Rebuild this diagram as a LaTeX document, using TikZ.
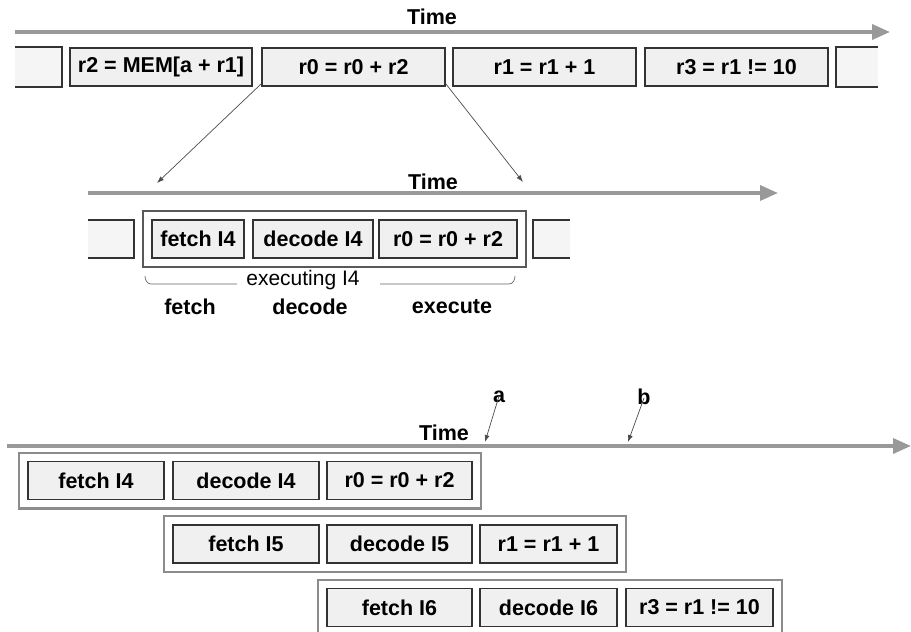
\documentclass[tikz,border=0pt]{standalone}
\usepackage{fontspec}
\setmainfont{Liberation Sans}
\usetikzlibrary{arrows.meta,fit}

\begin{document}
\begin{tikzpicture}[x=1pt,y=-1pt,
        every node/.style={inner sep=0pt, font=\fontsize{21.5}{24}\selectfont\bfseries},
        ibox/.style={draw=black!80, fill=black!6, line width=1.6pt, minimum height=38pt},
        obox/.style={draw=black!45, line width=2.4pt, inner sep=8pt},
        pbox/.style={draw=black!80, fill=black!4, line width=1.6pt},
        timeline/.style={draw=black!40, line width=3.5pt, -{Triangle[length=18pt,width=15pt]}},
        ptr/.style={draw=black!70, line width=0.7pt, -{Latex[length=7pt,width=5pt]}}]
        \useasboundingbox (0,0) rectangle (911,632);
        % top: instruction stream
        \coordinate (t1s) at (15,32);
        \coordinate (t1e) at (890,32);
        \draw[timeline] (t1s) -- (t1e);
        \node (time1) at (432,17) {Time};
        \draw[pbox] (15,47) -- (62,47) -- (62,87) -- (15,87);
        \node[ibox, minimum width=182pt] (ld) at (161,67) {r2 = MEM[a + r1]};
        \node[ibox, minimum width=183pt] (add) at (353.5,67) {r0 = r0 + r2};
        \node[ibox, minimum width=183pt] (inc) at (544.5,67) {r1 = r1 + 1};
        \node[ibox, minimum width=183pt] (cmp) at (736.5,67) {r3 = r1 != 10};
        \draw[pbox] (878,47) -- (836,47) -- (836,87) -- (878,87);
        % middle: one instruction split in stages
        \coordinate (zl) at (157,183);
        \coordinate (zr) at (523,182);
        \draw[ptr] ([yshift=3pt]add.south west) -- (zl);
        \draw[ptr] ([yshift=3pt]add.south east) -- (zr);
        \coordinate (t2s) at (88,193);
        \coordinate (t2e) at (778,193);
        \draw[timeline] (t2s) -- (t2e);
        \node (time2) at (433,182) {Time};
        \draw[pbox] (88,220) -- (134,220) -- (134,258) -- (88,258);
        \node[ibox, minimum width=92pt] (fa) at (198,239) {fetch I4};
        \node[ibox, minimum width=120pt] (da) at (313,239) {decode I4};
        \node[ibox, minimum width=138pt] (ea) at (448,239) {r0 = r0 + r2};
        \node[obox, draw=black!65, line width=1.8pt, fit=(fa)(ea)] (exec) {};
        \draw[pbox] (570,220) -- (533,220) -- (533,258) -- (570,258);
        \node[font=\fontsize{21}{24}\selectfont] (ex) at (303,280) {executing I4};
        \draw[black!60, line width=0.7pt] (145,276) to[out=-90,in=180] (151,284) -- (237,284);
        \draw[black!60, line width=0.7pt] (380,284) -- (509,284) to[out=0,in=-90] (515,276);
        \node (lf) at (190,307) {fetch};
        \node (ld2) at (310,307) {decode};
        \node (le) at (452,307) {execute};
        % bottom: overlapped stages
        \coordinate (t3s) at (7,446);
        \coordinate (t3e) at (911,446);
        \draw[timeline] (t3s) -- (t3e);
        \node (time3) at (444,433) {Time};
        \node (a) at (499,397) {a};
        \node (b) at (644,397) {b};
        \coordinate (pa) at (485,442);
        \coordinate (pb) at (628,442);
        \draw[ptr] ([yshift=7pt]a.south) -- (pa);
        \draw[ptr] ([yshift=7pt]b.south) -- (pb);
        \node[ibox, minimum width=136pt] (f4) at (96,480.5) {fetch I4};
        \node[ibox, minimum width=146pt] (d4) at (246,480.5) {decode I4};
        \node[ibox, minimum width=145pt] (e4) at (399.5,480.5) {r0 = r0 + r2};
        \node[obox, fit=(f4)(e4)] (i4) {};
        \node[ibox, minimum width=146pt] (f5) at (246,544) {fetch I5};
        \node[ibox, minimum width=145pt] (d5) at (399.5,544) {decode I5};
        \node[ibox, minimum width=137pt] (e5) at (548.5,544) {r1 = r1 + 1};
        \node[obox, fit=(f5)(e5)] (i5) {};
        \node[ibox, minimum width=145pt] (f6) at (399.5,607.5) {fetch I6};
        \node[ibox, minimum width=137pt] (d6) at (548.5,607.5) {decode I6};
        \node[ibox, minimum width=147pt] (e6) at (699.5,607.5) {r3 = r1 != 10};
        \node[obox, fit=(f6)(e6)] (i6) {};
        \end{tikzpicture}
\end{document}
